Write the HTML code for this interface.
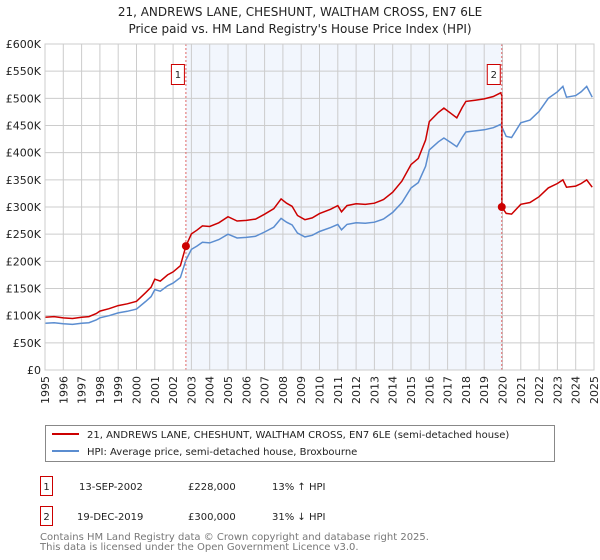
<!DOCTYPE html>
<html><head><meta charset="utf-8"><style>
body{margin:0;background:#fff;font-family:"DejaVu Sans","Liberation Sans",sans-serif;}
svg{display:block}
</style></head><body>
<svg id="chart" width="600" height="560" viewBox="0 0 600 560" xmlns="http://www.w3.org/2000/svg" font-family="DejaVu Sans, Liberation Sans, sans-serif">
<text x="300" y="16" text-anchor="middle" font-size="12" fill="#222">21, ANDREWS LANE, CHESHUNT, WALTHAM CROSS, EN7 6LE</text>
<text x="300" y="33" text-anchor="middle" font-size="12" fill="#222">Price paid vs. HM Land Registry's House Price Index (HPI)</text>
<g id="plot"></g>
<g>
<rect x="45.5" y="425.5" width="509" height="36" fill="#fff" stroke="#888"/>
<line x1="52" y1="434" x2="79" y2="434" stroke="#cc0000" stroke-width="2"/>
<text x="87" y="438" font-size="10" fill="#222">21, ANDREWS LANE, CHESHUNT, WALTHAM CROSS, EN7 6LE (semi-detached house)</text>
<line x1="52" y1="451" x2="79" y2="451" stroke="#5b8dd0" stroke-width="2"/>
<text x="87" y="455" font-size="10" fill="#222">HPI: Average price, semi-detached house, Broxbourne</text>
</g>
<g font-size="10" fill="#222">
<rect x="40.5" y="476.5" width="12" height="19" fill="#fff" stroke="#cc0000"/>
<text x="46.5" y="490" text-anchor="middle">1</text>
<text x="79" y="490">13-SEP-2002</text><text x="188" y="490">£228,000</text><text x="272" y="490">13% ↑ HPI</text>
<rect x="40.5" y="506.5" width="12" height="19" fill="#fff" stroke="#cc0000"/>
<text x="46.5" y="520" text-anchor="middle">2</text>
<text x="77" y="520">19-DEC-2019</text><text x="188" y="520">£300,000</text><text x="272" y="520">31% ↓ HPI</text>
</g>
<text x="40" y="540" font-size="10" fill="#777">Contains HM Land Registry data © Crown copyright and database right 2025.</text>
<text x="40" y="550" font-size="10" fill="#777">This data is licensed under the Open Government Licence v3.0.</text>
</svg>
<script>
const hpiYears=[1995,1995.5,1996,1996.5,1997,1997.4,1997.8,1998,1998.5,1999,1999.5,2000,2000.5,2000.8,2001,2001.3,2001.7,2002,2002.4,2002.7,2003,2003.3,2003.6,2004,2004.5,2005,2005.5,2006,2006.5,2007,2007.5,2007.9,2008.2,2008.5,2008.8,2009.2,2009.6,2010,2010.6,2011,2011.2,2011.5,2012,2012.5,2013,2013.5,2014,2014.5,2015,2015.4,2015.8,2016,2016.5,2016.8,2017.2,2017.5,2017.8,2018,2018.5,2019,2019.5,2019.9,2020.2,2020.5,2021,2021.5,2022,2022.5,2023,2023.3,2023.5,2024,2024.3,2024.6,2024.9];
const hpiValues=[86,87,85,84,86,87,92,96,100,105,108,112,126,135,148,145,155,160,170,202,222,228,235,234,240,250,243,244,246,254,263,279,272,267,252,245,248,255,262,268,258,268,271,270,272,278,290,308,335,345,375,405,420,427,418,411,428,438,440,442,446,452,430,428,455,460,476,500,512,522,502,505,512,522,502];
const priceLabels=["£0","£50K","£100K","£150K","£200K","£250K","£300K","£350K","£400K","£450K","£500K","£550K","£600K"];
const tickValues=[0,50,100,150,200,250,300,350,400,450,500,550,600];
const yearLabels=["1995","1996","1997","1998","1999","2000","2001","2002","2003","2004","2005","2006","2007","2008","2009","2010","2011","2012","2013","2014","2015","2016","2017","2018","2019","2020","2021","2022","2023","2024","2025"];
const saleYears=[2002.7,2019.96];
const salePrices=[228,300];
const saleLabels=["1","2"];

const L=45,R=594,T=44,B=370,X0=1995,X1=2025,YMAX=600;
const xs=v=>L+(v-X0)/(X1-X0)*(R-L);
const ys=v=>B-v/YMAX*(B-T);
const NS="http://www.w3.org/2000/svg";
const plot=document.getElementById('plot');
function mk(tag,attrs,parent){const e=document.createElementNS(NS,tag);for(const k in attrs)e.setAttribute(k,attrs[k]);(parent||plot).appendChild(e);return e;}
function hpiAt(y){for(let i=1;i<hpiYears.length;i++){if(y<=hpiYears[i]){const t=(y-hpiYears[i-1])/(hpiYears[i]-hpiYears[i-1]);return hpiValues[i-1]+t*(hpiValues[i]-hpiValues[i-1]);}}return hpiValues[hpiValues.length-1];}

const shade=mk('rect',{x:xs(saleYears[0]),y:T,width:xs(saleYears[1])-xs(saleYears[0]),height:B-T,fill:'#f2f6fd'});


for(let i=0;i<tickValues.length;i++){
 const g=mk('line',{x1:L,x2:R,y1:ys(tickValues[i]),y2:ys(tickValues[i]),stroke:'#ccc','stroke-width':1});
 
 
 const t=mk('text',{x:L-4,y:ys(tickValues[i])+4,'text-anchor':'end','font-size':11,fill:'#222'});
 t.textContent=priceLabels[i];
 
 
}
for(let i=0;i<yearLabels.length;i++){
 const yr=+yearLabels[i];
 const g=mk('line',{x1:xs(yr),x2:xs(yr),y1:T,y2:B,stroke:'#ccc','stroke-width':1});
 
 
 const t=mk('text',{x:0,y:0,'text-anchor':'end','font-size':11,fill:'#222',transform:`translate(${xs(yr)+4},${B+6}) rotate(-90)`});
 t.textContent=yearLabels[i];
 
 
}
let d='';hpiYears.forEach((y,i)=>{d+=(i?'L':'M')+xs(y).toFixed(1)+','+ys(hpiValues[i]).toFixed(1);});
const hl=mk('path',{d:d,fill:'none',stroke:'#5b8dd0','stroke-width':1.5});


const r1=salePrices[0]/hpiAt(saleYears[0]),r2=salePrices[1]/hpiAt(saleYears[1]);
let pts=[];
hpiYears.forEach((y,i)=>{if(y<saleYears[1])pts.push([y,hpiValues[i]*r1]);});
pts.push([saleYears[1],hpiAt(saleYears[1])*r1]);
pts.push([saleYears[1],salePrices[1]]);
hpiYears.forEach((y,i)=>{if(y>saleYears[1])pts.push([y,hpiValues[i]*r2]);});
d='';pts.forEach((p,i)=>{d+=(i?'L':'M')+xs(p[0]).toFixed(1)+','+ys(p[1]).toFixed(1);});
const pl=mk('path',{d:d,fill:'none',stroke:'#cc0000','stroke-width':1.5});


for(let i=0;i<saleYears.length;i++){
 const vl=mk('line',{x1:xs(saleYears[i]),x2:xs(saleYears[i]),y1:T,y2:B,stroke:'#e06666','stroke-width':1,'stroke-dasharray':'2,2'});
 
 
 const c=mk('circle',{cx:xs(saleYears[i]),cy:ys(salePrices[i]),r:4,fill:'#cc0000'});
 
 
 const bx=mk('rect',{x:xs(saleYears[i])-14.5,y:64.5,width:13,height:20,fill:'#fff',stroke:'#cc0000'});
 
 
 const bt=mk('text',{x:xs(saleYears[i])-8,y:78,'text-anchor':'middle','font-size':10,fill:'#222'});
 bt.textContent=saleLabels[i];
 
 
}
const fr=mk('rect',{x:L,y:T,width:R-L,height:B-T,fill:'none',stroke:'#ccc'});


</script>
</body></html>
